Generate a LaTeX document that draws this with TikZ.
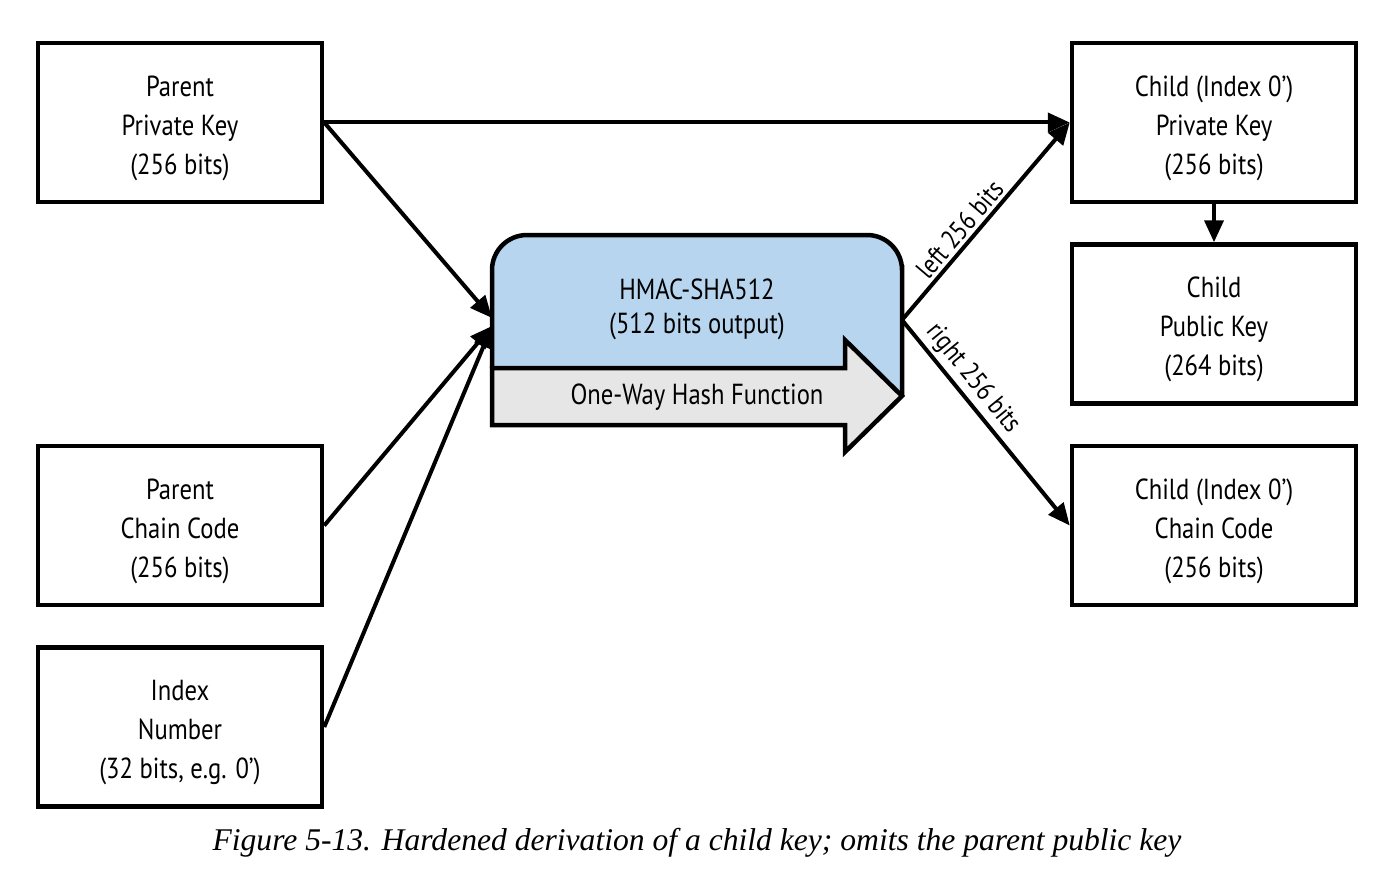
\documentclass[tikz,border=0pt]{standalone}
\usepackage{fontspec}
\newfontfamily\boxfont{PT Sans}[FakeStretch=0.85]
\newfontfamily\capfont{Liberation Serif}
\usetikzlibrary{arrows.meta}
\definecolor{hblue}{RGB}{183,213,238}
\definecolor{hgray}{RGB}{230,230,230}
\newcommand\kstrut{\rule{0pt}{32pt}}
\tikzset{
  keybox/.style={draw, line width=4.5pt, minimum width=284pt, minimum height=159pt, align=center,
    font=\boxfont\fontsize{29}{39}\selectfont, inner sep=0pt},
  conn/.style={line width=4pt, -{Triangle[length=22pt,width=19pt]}},
  lbl/.style={font=\boxfont\fontsize{27}{32}\selectfont, sloped, above, inner sep=3pt},
  txt/.style={font=\boxfont\fontsize{29}{34}\selectfont, align=center, inner sep=0pt}
}
\begin{document}
\begin{tikzpicture}[x=1pt,y=-1pt]
\useasboundingbox (0,0) rectangle (1396,888);
% boxes
\node[keybox] (ppk) at (180,122.5) {\kstrut Parent\\Private Key\\(256 bits)};
\node[keybox] (pcc) at (180,525.5) {\kstrut Parent\\Chain Code\\(256 bits)};
\node[keybox] (idx) at (180,727) {\kstrut Index\\Number\\(32 bits, e.g. 0’)};
\node[keybox] (cpk) at (1214,122.5) {\kstrut Child (Index 0’)\\Private Key\\(256 bits)};
\node[keybox] (cpub) at (1214,324) {\kstrut Child\\Public Key\\(264 bits)};
\node[keybox] (ccc) at (1214,525.5) {\kstrut Child (Index 0’)\\Chain Code\\(256 bits)};
% HMAC shape
\fill[hblue] (845,368) -- (492,368) -- (492,300) {[rounded corners=35pt] -- (492,235) -- (902,235) -- (902,300)} -- (902,396) -- (845,340) -- cycle;
\draw[line width=4.5pt] (492,368) -- (492,300) {[rounded corners=35pt] -- (492,235) -- (902,235) -- (902,300)} -- (902,396);
\draw[line width=4.5pt, fill=hgray, line join=miter] (492,368) -- (845,368) -- (845,340) -- (902,396) -- (845,452) -- (845,425) -- (492,425) -- cycle;
\node[txt] (hmac) at (697,309) {HMAC-SHA512\\(512 bits output)};
\node[txt] (owh) at (697,397) {One-Way Hash Function};
\coordinate (in1) at (492,318);
\coordinate (in2) at (492,326);
\coordinate (out) at (902,320);
% connectors
\draw[conn] (ppk.east) -- (cpk.west);
\draw[conn] (ppk.east) -- (in1);
\draw[conn] (pcc.east) -- (in2);
\draw[conn] (idx.east) -- (in2);
\draw[conn] (out) -- node[lbl, pos=0.41] {left 256 bits} (cpk.west);
\draw[conn] (out) -- node[lbl, pos=0.34] {right 256 bits} (ccc.west);
\draw[conn] (cpk.south) -- (cpub.north);
% caption
\node[font=\capfont\itshape\fontsize{31.6}{36}\selectfont, inner sep=0pt] (cap) at (697,843) {Figure 5-13. Hardened derivation of a child key; omits the parent public key};
\end{tikzpicture}
\end{document}
